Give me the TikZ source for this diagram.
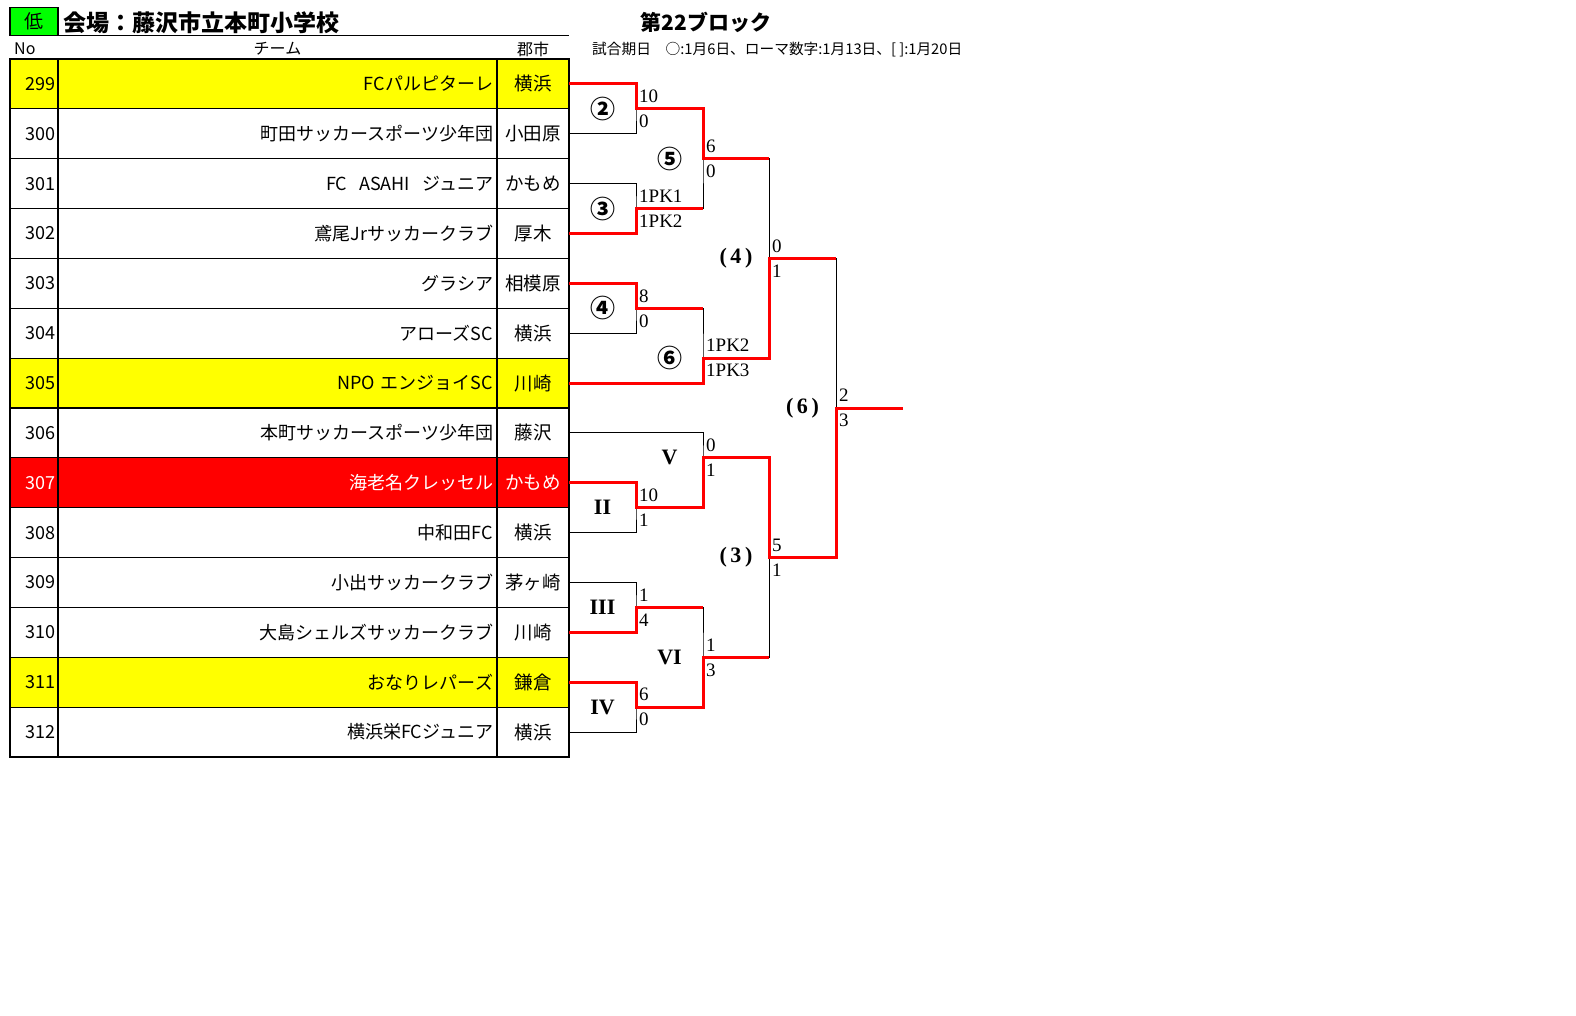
\documentclass[tikz,border=0pt]{standalone}
\usepackage{fontspec}
\setmainfont{Liberation Serif}
\newfontfamily\jp{Noto Sans CJK JP}
\definecolor{rowyellow}{RGB}{255,255,0}
\definecolor{rowred}{RGB}{255,0,0}
\definecolor{boxgreen}{RGB}{0,255,0}

\begin{document}
\begin{tikzpicture}[x=1pt,y=-1pt]

\tikzstyle{nocell} = [draw=black, line width=1.2, outer sep=0, inner xsep=3, inner ysep=0,
    text width=42, minimum height=49.86, align=right,
    font=\jp\fontsize{18}{18}\selectfont]
\tikzstyle{teamcell} = [draw=black, line width=1.2, outer sep=0, inner xsep=4, inner ysep=0,
    text width=431, minimum height=49.86, align=right,
    font=\jp\fontsize{18}{18}\selectfont]
\tikzstyle{citycell} = [draw=black, line width=1.2, outer sep=0, inner xsep=4, inner ysep=0,
    text width=64, minimum height=49.86, align=center,
    font=\jp\fontsize{18.5}{18.5}\selectfont]
\tikzstyle{plain} = [draw=black, line width=1]
\tikzstyle{winner} = [draw=rowred, line width=3]
\tikzstyle{score} = [anchor=west, inner sep=0, font=\fontsize{19}{19}\selectfont]
\tikzstyle{round} = [inner sep=0, font=\bfseries\fontsize{22}{22}\selectfont]
\tikzstyle{circled} = [inner sep=0, font=\jp\bfseries\fontsize{25}{25}\selectfont]

\useasboundingbox (0,0) rectangle (1576,1016);

% =========================
% heading
% =========================
\node[draw=black, line width=1.8, fill=boxgreen, minimum width=48, minimum height=28,
    inner sep=0, outer sep=0] (low) at (34,21.5) {\jp\fontsize{19}{19}\selectfont 低};
\coordinate (ruleend) at (569,35.5);
\draw[line width=1.2] (low.south east) -- (ruleend);
\node[anchor=west, inner sep=0] (venue) at (63,22.5)
    {\jp\bfseries\fontsize{23}{23}\selectfont 会場：藤沢市立本町小学校};
\node[inner sep=0] (block) at (706,22.5)
    {\jp\bfseries\fontsize{21}{21}\selectfont 第22ブロック};
\node[anchor=west, inner sep=0] (dates) at (592,50)
    {\jp\fontsize{14.7}{14.7}\selectfont 試合期日　○:1月6日、ローマ数字:1月13日、[ ]:1月20日};

\node[anchor=west, inner sep=0] (hno) at (14,49) {\jp\fontsize{16}{16}\selectfont No};
\node[inner sep=0] (hteam) at (277.5,49) {\jp\fontsize{16}{16}\selectfont チーム};
\node[inner sep=0] (hcity) at (533,49) {\jp\fontsize{16}{16}\selectfont 郡市};

% =========================
% team table - rows 299 to 305
% =========================
\node[nocell, fill=rowyellow] (n299) at (34,83.93) {299};
\node[teamcell, fill=rowyellow] (t299) at (277.5,83.93) {FCパルピターレ};
\node[citycell, fill=rowyellow] (c299) at (533,83.93) {横浜};

\node[nocell] (n300) at (34,133.79) {300};
\node[teamcell] (t300) at (277.5,133.79) {町田サッカースポーツ少年団};
\node[citycell] (c300) at (533,133.79) {小田原};

\node[nocell] (n301) at (34,183.65) {301};
\node[teamcell] (t301) at (277.5,183.65) {FC\ \ ASAHI\ \ ジュニア};
\node[citycell] (c301) at (533,183.65) {かもめ};

\node[nocell] (n302) at (34,233.51) {302};
\node[teamcell] (t302) at (277.5,233.51) {鳶尾Jrサッカークラブ};
\node[citycell] (c302) at (533,233.51) {厚木};

\node[nocell] (n303) at (34,283.37) {303};
\node[teamcell] (t303) at (277.5,283.37) {グラシア};
\node[citycell] (c303) at (533,283.37) {相模原};

\node[nocell] (n304) at (34,333.23) {304};
\node[teamcell] (t304) at (277.5,333.23) {アローズSC};
\node[citycell] (c304) at (533,333.23) {横浜};

\node[nocell, fill=rowyellow] (n305) at (34,383.09) {305};
\node[teamcell, fill=rowyellow] (t305) at (277.5,383.09) {NPO エンジョイSC};
\node[citycell, fill=rowyellow] (c305) at (533,383.09) {川崎};

% =========================
% team table - rows 306 to 312
% =========================
\node[nocell] (n306) at (34,432.95) {306};
\node[teamcell] (t306) at (277.5,432.95) {本町サッカースポーツ少年団};
\node[citycell] (c306) at (533,432.95) {藤沢};

\node[nocell, fill=rowred, text=white] (n307) at (34,482.81) {307};
\node[teamcell, fill=rowred, text=white] (t307) at (277.5,482.81) {海老名クレッセル};
\node[citycell, fill=rowred, text=white] (c307) at (533,482.81) {かもめ};

\node[nocell] (n308) at (34,532.67) {308};
\node[teamcell] (t308) at (277.5,532.67) {中和田FC};
\node[citycell] (c308) at (533,532.67) {横浜};

\node[nocell] (n309) at (34,582.53) {309};
\node[teamcell] (t309) at (277.5,582.53) {小出サッカークラブ};
\node[citycell] (c309) at (533,582.53) {茅ヶ崎};

\node[nocell] (n310) at (34,632.39) {310};
\node[teamcell] (t310) at (277.5,632.39) {大島シェルズサッカークラブ};
\node[citycell] (c310) at (533,632.39) {川崎};

\node[nocell, fill=rowyellow] (n311) at (34,682.25) {311};
\node[teamcell, fill=rowyellow] (t311) at (277.5,682.25) {おなりレパーズ};
\node[citycell, fill=rowyellow] (c311) at (533,682.25) {鎌倉};

\node[nocell] (n312) at (34,732.11) {312};
\node[teamcell] (t312) at (277.5,732.11) {横浜栄FCジュニア};
\node[citycell] (c312) at (533,732.11) {横浜};

% =========================
% bracket joints
% =========================
\coordinate (m2) at (636,108.86);
\coordinate (m3) at (636,208.58);
\coordinate (m4) at (636,308.30);
\coordinate (mII) at (636,507.74);
\coordinate (mIII) at (636,607.46);
\coordinate (mIV) at (636,707.18);
\coordinate (m5) at (703,158.72);
\coordinate (m6) at (703,358.16);
\coordinate (mV) at (703,457.88);
\coordinate (mVI) at (703,657.32);
\coordinate (r4) at (769,258.44);
\coordinate (r3) at (769,557.60);
\coordinate (f6) at (836,408.02);
\coordinate (champ) at (903,408.02);

% black bracket
\draw[plain] (c299.east) -| (m2) |- (c300.east);
\draw[plain] (c301.east) -| (m3) |- (c302.east);
\draw[plain] (c303.east) -| (m4) |- (c304.east);
\draw[plain] (c307.east) -| (mII) |- (c308.east);
\draw[plain] (c309.east) -| (mIII) |- (c310.east);
\draw[plain] (c311.east) -| (mIV) |- (c312.east);
\draw[plain] (m2) -| (m5) |- (m3);
\draw[plain] (m4) -| (m6) |- (c305.east);
\draw[plain] (c306.east) -| (mV) |- (mII);
\draw[plain] (mIII) -| (mVI) |- (mIV);
\draw[plain] (m5) -| (r4) |- (m6);
\draw[plain] (mV) -| (r3) |- (mVI);
\draw[plain] (r4) -| (f6) |- (r3);

% red winners
\draw[winner] (c299.east) -| (m2) -| (m5) -- (m5 -| r4);
\draw[winner] (c302.east) -| (m3) -- (m3 -| m5);
\draw[winner] (c303.east) -| (m4) -- (m4 -| m6);
\draw[winner] (c305.east) -| (m6) -| (r4) -- (r4 -| f6);
\draw[winner] (c307.east) -| (mII) -| (mV) -| (r3) -| (f6) -- (champ);
\draw[winner] (c310.east) -| (mIII) -- (mIII -| mVI);
\draw[winner] (c311.east) -| (mIV) -| (mVI) -- (mVI -| r3);

% =========================
% match names
% =========================
\node[circled] (g2) at (602.5,108.86) {②};
\node[circled] (g3) at (602.5,208.58) {③};
\node[circled] (g4) at (602.5,308.30) {④};
\node[circled] (g5) at (669.5,158.72) {⑤};
\node[circled] (g6) at (669.5,358.16) {⑥};
\node[round] (gr4) at (736,258.44) {(\,4\,)};
\node[round] (gr3) at (736,557.60) {(\,3\,)};
\node[round] (gr6) at (802.5,408.02) {(\,6\,)};
\node[round] (gII) at (602.5,507.74) {II};
\node[round] (gIII) at (602.5,607.46) {III};
\node[round] (gIV) at (602.5,707.18) {IV};
\node[round] (gV) at (669.5,457.88) {V};
\node[round] (gVI) at (669.5,657.32) {VI};

% =========================
% scores
% =========================
\node[score] (s2a) at ([shift={(3,-12.5)}]m2) {10};
\node[score] (s2b) at ([shift={(3,12.5)}]m2) {0};
\node[score] (s3a) at ([shift={(3,-12.5)}]m3) {1PK1};
\node[score] (s3b) at ([shift={(3,12.5)}]m3) {1PK2};
\node[score] (s4a) at ([shift={(3,-12.5)}]m4) {8};
\node[score] (s4b) at ([shift={(3,12.5)}]m4) {0};
\node[score] (sIIa) at ([shift={(3,-12.5)}]mII) {10};
\node[score] (sIIb) at ([shift={(3,12.5)}]mII) {1};
\node[score] (sIIIa) at ([shift={(3,-12.5)}]mIII) {1};
\node[score] (sIIIb) at ([shift={(3,12.5)}]mIII) {4};
\node[score] (sIVa) at ([shift={(3,-12.5)}]mIV) {6};
\node[score] (sIVb) at ([shift={(3,12.5)}]mIV) {0};
\node[score] (s5a) at ([shift={(3,-12.5)}]m5) {6};
\node[score] (s5b) at ([shift={(3,12.5)}]m5) {0};
\node[score] (s6a) at ([shift={(3,-12.5)}]m6) {1PK2};
\node[score] (s6b) at ([shift={(3,12.5)}]m6) {1PK3};
\node[score] (sVa) at ([shift={(3,-12.5)}]mV) {0};
\node[score] (sVb) at ([shift={(3,12.5)}]mV) {1};
\node[score] (sVIa) at ([shift={(3,-12.5)}]mVI) {1};
\node[score] (sVIb) at ([shift={(3,12.5)}]mVI) {3};
\node[score] (sr4a) at ([shift={(3,-12.5)}]r4) {0};
\node[score] (sr4b) at ([shift={(3,12.5)}]r4) {1};
\node[score] (sr3a) at ([shift={(3,-12.5)}]r3) {5};
\node[score] (sr3b) at ([shift={(3,12.5)}]r3) {1};
\node[score] (sf6a) at ([shift={(3,-12.5)}]f6) {2};
\node[score] (sf6b) at ([shift={(3,12.5)}]f6) {3};

\end{tikzpicture}
\end{document}
